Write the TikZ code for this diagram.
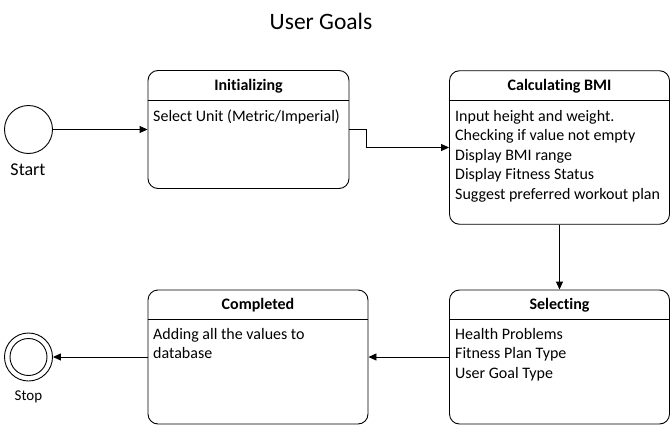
\documentclass[tikz,border=0pt]{standalone}
\usepackage{fontspec}
\setmainfont{Carlito}[RawFeature={-liga;-clig}]
\usetikzlibrary{arrows.meta,calc}
\begin{document}
\begin{tikzpicture}[x=1pt,y=-1pt,
  statebox/.style={draw,rounded corners=10pt,line width=0.9pt,inner sep=0pt},
  initcircle/.style={draw,circle,line width=0.9pt,minimum size=48pt,inner sep=0pt},
  titletext/.style={font=\fontsize{16}{19.5}\selectfont\bfseries,inner sep=0pt},
  bodytext/.style={font=\fontsize{16}{19.5}\selectfont,align=left,anchor=north west,inner sep=0pt},
  conn/.style={line width=0.9pt,-{Triangle[length=8pt,width=7pt]}}
]
\useasboundingbox (0,0) rectangle (671,428);

\node (title) at (321,21) {\fontsize{23.5}{28}\selectfont User Goals};

% start
\node[initcircle] (start) at (28.5,129.5) {};
\node[font=\fontsize{18}{22}\selectfont] (startlbl) at (28,170) {Start};

% initializing
\node[statebox,minimum width=201pt,minimum height=118pt] (init) at (248.5,129.5) {};
\draw[line width=0.9pt] ($(init.north west)+(0,30.5)$) -- ($(init.north east)+(0,30.5)$);
\node[titletext] (inittitle) at (248.5,86) {Initializing};
\node[bodytext] (initbody) at (153,108) {\rule{0pt}{13pt}Select Unit (Metric/Imperial)};

% calculating
\node[statebox,minimum width=220pt,minimum height=153.5pt] (calc) at (559.5,147.5) {};
\draw[line width=0.9pt] ($(calc.north west)+(0,30)$) -- ($(calc.north east)+(0,30)$);
\node[titletext] (calctitle) at (559.5,86) {Calculating BMI};
\node[bodytext] (calcbody) at (455,108) {\rule{0pt}{13pt}Input height and weight.\\Checking if value not empty\\Display BMI range\\Display Fitness Status\\Suggest preferred workout plan};

% selecting
\node[statebox,minimum width=220pt,minimum height=134pt] (sel) at (559.5,357) {};
\draw[line width=0.9pt] ($(sel.north west)+(0,30)$) -- ($(sel.north east)+(0,30)$);
\node[titletext] (seltitle) at (559.5,305) {Selecting};
\node[bodytext] (selbody) at (455,326) {\rule{0pt}{13pt}Health Problems\\Fitness Plan Type\\User Goal Type};

% completed
\node[statebox,minimum width=220pt,minimum height=134pt] (comp) at (258,357) {};
\draw[line width=0.9pt] ($(comp.north west)+(0,30)$) -- ($(comp.north east)+(0,30)$);
\node[titletext] (comptitle) at (258,305) {Completed};
\node[bodytext] (compbody) at (153,326) {\rule{0pt}{13pt}Adding all the values to\\database};

% stop
\node[initcircle] (stop) at (28.5,357) {};
\draw[line width=0.9pt] (stop.center) circle (18.5);
\node[font=\fontsize{15}{18}\selectfont] (stoplbl) at (28.5,397) {Stop};

% connectors
\draw[conn] (start.east) -- (init.west);
\coordinate (bend) at (366,129.5);
\draw[conn] (init.east) -- (bend) |- (calc.west);
\draw[conn] (calc.south) -- (sel.north);
\draw[conn] (sel.west) -- (comp.east);
\draw[conn] (comp.west) -- (stop.east);
\end{tikzpicture}
\end{document}
